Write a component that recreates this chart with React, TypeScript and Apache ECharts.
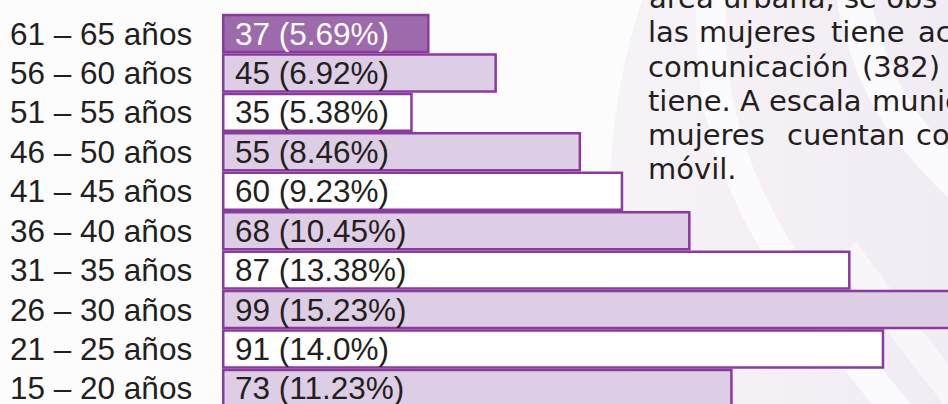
import React, { useEffect, useRef } from 'react';
import * as echarts from 'echarts';

// ---- data ----
const categories = [
  '61 – 65 años',
  '56 – 60 años',
  '51 – 55 años',
  '46 – 50 años',
  '41 – 45 años',
  '36 – 40 años',
  '31 – 35 años',
  '26 – 30 años',
  '21 – 25 años',
  '15 – 20 años',
];
const counts = [37, 45, 35, 55, 60, 68, 87, 99, 91, 73];
const percents = ['5.69', '6.92', '5.38', '8.46', '9.23', '10.45', '13.38', '15.23', '14.0', '11.23'];
const fillKinds = ['dark', 'light', 'white', 'light', 'white', 'light', 'white', 'light', 'white', 'light'];

const paragraphLines = [
  ['área urbana, se obs'],
  ['las', 'mujeres', 'tiene', 'ac'],
  ['comunicación', '(382)'],
  ['tiene.', 'A', 'escala', 'munic'],
  ['mujeres', 'cuentan', 'co'],
  ['móvil.'],
];

// ---- layout / style ----
const WORD_X = [
  [649],
  [648, 699, 831, 918],
  [648, 862],
  [648, 740, 769, 872],
  [648, 787, 916],
  [648],
];
const FILL: Record<string, string> = { dark: '#9d6aac', light: '#ddcde5', white: '#ffffff' };
const BORDER = '#8b3a9d';
const TEXT = '#231f20';
const AXIS_MIN = 12.35;
const AXIS_MAX = 100;
const PX_PER_UNIT = 8.42;
const GRID_LEFT = 222;
const GRID_TOP = 13.8;
const BAND = 39.43;
const LABEL_FONT = 31.5;

const PARA_FIRST_BASELINE = 8.3;
const PARA_LINE_H = 34.2;
const PARA_FONT = 29;

export default function App() {
  const ref = useRef<HTMLDivElement>(null);

  useEffect(() => {
    if (!ref.current) return;
    const chart = echarts.init(ref.current, undefined, { renderer: 'svg' });

    const textEls: any[] = [];
    paragraphLines.forEach((words, li) => {
      const y = PARA_FIRST_BASELINE + li * PARA_LINE_H - PARA_FONT * 0.346;
      words.forEach((w, wi) => {
        textEls.push({
          type: 'text',
          x: WORD_X[li][wi],
          y,
          z: 5,
          style: {
            text: w,
            fontSize: PARA_FONT,
            fontFamily: '"DejaVu Sans", Verdana, sans-serif',
            fill: TEXT,
            verticalAlign: 'middle',
            align: 'left',
          },
        });
      });
    });

    const bg: any[] = [
      { type: 'rect', z: -10, shape: { x: 0, y: 0, width: 948, height: 404 }, style: { fill: '#fcfcfd' } },
      {
        type: 'circle',
        z: -9,
        shape: { cx: 1250, cy: 200, r: 640 },
        style: {
          fill: new echarts.graphic.LinearGradient(0, 0, 1, 0, [
            { offset: 0, color: '#f6f3f7' },
            { offset: 0.35, color: '#f0eaf3' },
            { offset: 1, color: '#e9e1ee' },
          ]),
        },
      },
      {
        type: 'bezierCurve',
        z: -8,
        shape: { x1: 712, y1: -10, cpx1: 700, cpy1: 150, cpx2: 770, cpy2: 260, x2: 905, y2: 420 },
        style: { stroke: '#fbfafc', lineWidth: 30, fill: 'none' },
      },
      {
        type: 'bezierCurve',
        z: -8,
        shape: { x1: 852, y1: -10, cpx1: 868, cpy1: 80, cpx2: 900, cpy2: 130, x2: 965, y2: 190 },
        style: { stroke: '#fbfafc', lineWidth: 34, fill: 'none' },
      },
      {
        type: 'bezierCurve',
        z: -8,
        shape: { x1: 845, y1: 250, cpx1: 880, cpy1: 300, cpx2: 920, cpy2: 350, x2: 965, y2: 410 },
        style: { stroke: '#f8f6f9', lineWidth: 28, fill: 'none' },
      },
    ];

    const option: any = {
      animation: false,
      backgroundColor: '#fcfcfd',
      grid: {
        left: GRID_LEFT,
        top: GRID_TOP,
        width: (AXIS_MAX - AXIS_MIN) * PX_PER_UNIT,
        height: BAND * categories.length,
        containLabel: false,
        outerBoundsMode: 'none',
      },
      xAxis: {
        type: 'value',
        min: AXIS_MIN,
        max: AXIS_MAX,
        startValue: AXIS_MIN,
        show: false,
        splitLine: { show: false },
      },
      yAxis: {
        type: 'category',
        data: categories,
        inverse: true,
        axisLine: { show: false },
        axisTick: { show: false },
        splitLine: { show: false },
        axisLabel: {
          interval: 0,
          align: 'left',
          margin: GRID_LEFT - 10,
          fontSize: LABEL_FONT,
          fontFamily: '"Liberation Sans", Arial, sans-serif',
          color: TEXT,
          hideOverlap: false,
        },
      },
      graphic: { elements: [...bg, ...textEls] },
      series: [
        {
          type: 'bar',
          clip: true,
          barCategoryGap: '0%',
          data: counts.map((v, i) => ({
            value: v,
            itemStyle: { color: FILL[fillKinds[i]] },
            label: fillKinds[i] === 'dark' ? { color: '#ffffff' } : undefined,
          })),
          itemStyle: { borderColor: BORDER, borderWidth: 2.5 },
          label: {
            show: true,
            position: 'insideLeft',
            distance: 13,
            fontSize: LABEL_FONT,
            fontFamily: '"Liberation Sans", Arial, sans-serif',
            color: TEXT,
            formatter: (p: any) => `${counts[p.dataIndex]} (${percents[p.dataIndex]}%)`,
          },
          z: 3,
        },
      ],
    };

    chart.setOption(option);
    return () => chart.dispose();
  }, []);

  return (
    <div
      ref={ref}
      style={{ position: 'fixed', left: 0, top: 0, width: 948, height: 404 }}
    />
  );
}
